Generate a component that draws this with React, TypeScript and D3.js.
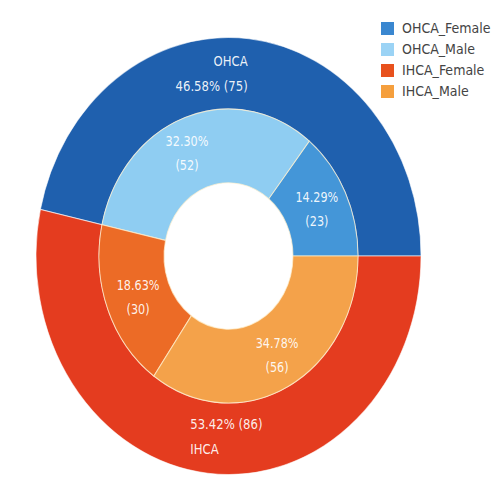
import React from "react";
import * as d3 from "d3";

const outerCategories = ["OHCA", "IHCA"];
const outerValues = [75, 86];
const innerCategories = ["OHCA_Female", "OHCA_Male", "IHCA_Female", "IHCA_Male"];
const innerValues = [23, 52, 30, 56];
const outerColors = ["#1f60ae", "#e43c1f"];
const innerColors = ["#4496d8", "#8fcdf2", "#ec6b26", "#f4a24a"];
const legendColors = ["#3a87d0", "#9bd3f5", "#e8511d", "#f59f3d"];

const W = 500;
const H = 500;
const cx = 228.5;
const cy = 256;
const yStretch = 1.135;
const rOuter = 192.5;
const rMid = 129.5;
const rHole = 64.5;
const FONT = "'DejaVu Sans Condensed', 'Liberation Sans Narrow', 'Open Sans', sans-serif";

export default function App() {
  const total = d3.sum(outerValues);
  const pie = d3
    .pie<number>()
    .sort(null)
    .value((d) => d)
    .startAngle(Math.PI / 2)
    .endAngle(Math.PI / 2 - 2 * Math.PI);
  const outerArcs = pie(outerValues);
  const innerArcs = pie(innerValues);
  const outerArc = d3.arc<d3.PieArcDatum<number>>().innerRadius(rMid).outerRadius(rOuter);
  const innerArc = d3.arc<d3.PieArcDatum<number>>().innerRadius(rHole).outerRadius(rMid);
  const pct = (v: number) => ((v / total) * 100).toFixed(2) + "%";
  const legendY = d3.scaleBand<string>().domain(innerCategories).range([18, 102]);
  const innerDx = [1, -9, 0, 4];

  return (
    <svg width={W} height={H} style={{ position: "absolute", left: 0, top: 0, background: "#fff" }}>
      <g transform={`translate(${cx},${cy}) scale(1,${yStretch})`}>
        {outerArcs.map((a, i) => (
          <path key={"o" + i} d={outerArc(a) || ""} fill={outerColors[i]} stroke="#fff" strokeOpacity={0.6} strokeWidth={1} />
        ))}
        {innerArcs.map((a, i) => (
          <path key={"i" + i} d={innerArc(a) || ""} fill={innerColors[i]} stroke="#fff1d0" strokeOpacity={0.7} strokeWidth={1} />
        ))}
        {innerArcs.map((a, i) => {
          const [x, y] = innerArc.centroid(a);
          return (
            <g key={"il" + i} fill="#fff" fillOpacity={0.92} fontFamily={FONT} fontSize={12.5} textAnchor="middle">
              <text x={x + innerDx[i]} y={y - 9} dominantBaseline="middle">{pct(innerValues[i])}</text>
              <text x={x + innerDx[i]} y={y + 12} dominantBaseline="middle">({innerValues[i]})</text>
            </g>
          );
        })}
        {outerArcs.map((a, i) => {
          const [x, y] = outerArc.centroid(a);
          const top = i === 0;
          const anchor = top ? "end" : "start";
          const dx = top ? 2 : -21;
          const lines = top
            ? [outerCategories[i], `${pct(outerValues[i])} (${outerValues[i]})`]
            : [`${pct(outerValues[i])} (${outerValues[i]})`, outerCategories[i]];
          return (
            <g key={"ol" + i} fill="#fff" fillOpacity={0.92} fontFamily={FONT} fontSize={13} textAnchor={anchor}>
              <text x={x + dx} y={y - 11} dominantBaseline="middle">{lines[0]}</text>
              <text x={x + dx} y={y + 11} dominantBaseline="middle">{lines[1]}</text>
            </g>
          );
        })}
      </g>
      <g>
        {innerCategories.map((c, i) => {
          const y = (legendY(c) || 0) + legendY.bandwidth() / 2;
          return (
            <g key={"lg" + i}>
              <rect x={381} y={y - 6.5} width={13} height={13} fill={legendColors[i]} />
              <text x={402} y={y} dominantBaseline="middle" fontFamily={FONT} fontSize={14} fill="#444">
                {c}
              </text>
            </g>
          );
        })}
      </g>
    </svg>
  );
}
